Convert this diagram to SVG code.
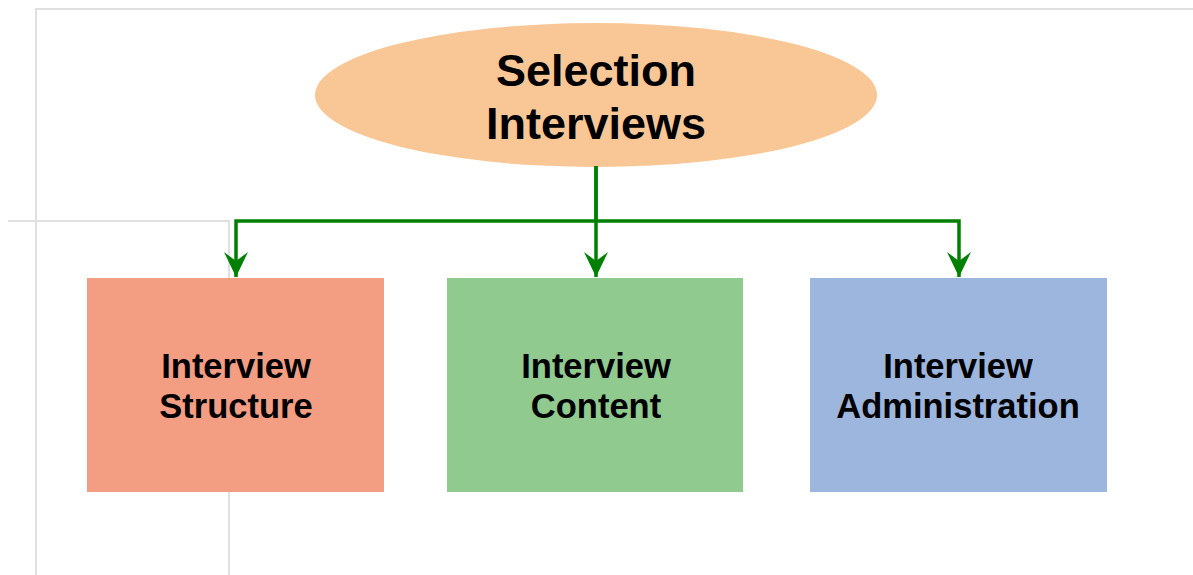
<svg xmlns="http://www.w3.org/2000/svg" width="1193" height="575" viewBox="0 0 1193 575">
<style>
.bg{fill:#ffffff}
.guide{stroke:#e0e0e0;stroke-width:2;fill:none}
.conn{stroke:#008000;stroke-width:3.5;fill:none}
.t{font-family:"Liberation Sans",Arial,sans-serif;font-weight:bold;fill:#000;text-anchor:middle}
.big{font-size:45px}
.mid{font-size:34.5px}
</style>
<defs>
<marker id="ah" viewBox="0 0 26 26" refX="25" refY="13" markerWidth="26" markerHeight="26" markerUnits="userSpaceOnUse" orient="auto">
<path d="M0,1 L25,13 L0,25 L9,13 Z" fill="#008000"/>
</marker>
</defs>
<rect class="bg" x="0" y="0" width="1193" height="575"/>
<g id="guides">
<path class="guide" d="M36,575 V9 H1193"/>
<path class="guide" d="M8,221 H229 V575"/>
</g>
<g id="node-selection">
<ellipse cx="596" cy="95" rx="281" ry="72" fill="#F9C795"/>
<text class="t big" x="596" y="86">Selection</text>
<text class="t big" x="596" y="139">Interviews</text>
</g>
<g id="node-structure">
<rect x="87" y="278" width="297" height="214" fill="#F39D83"/>
<text class="t mid" x="236" y="378">Interview</text>
<text class="t mid" x="236" y="418">Structure</text>
</g>
<g id="node-content">
<rect x="447" y="278" width="296" height="214" fill="#90CA8F"/>
<text class="t mid" x="596" y="378">Interview</text>
<text class="t mid" x="596" y="418">Content</text>
</g>
<g id="node-administration">
<rect x="810" y="278" width="297" height="214" fill="#9DB6DE"/>
<text class="t mid" x="958" y="378">Interview</text>
<text class="t mid" x="958" y="418">Administration</text>
</g>
<g id="connectors">
<path class="conn" d="M596,166 V221 H236 V277" marker-end="url(#ah)"/>
<path class="conn" d="M596,166 V277" marker-end="url(#ah)"/>
<path class="conn" d="M596,221 H959 V277" marker-end="url(#ah)"/>
</g>
</svg>
